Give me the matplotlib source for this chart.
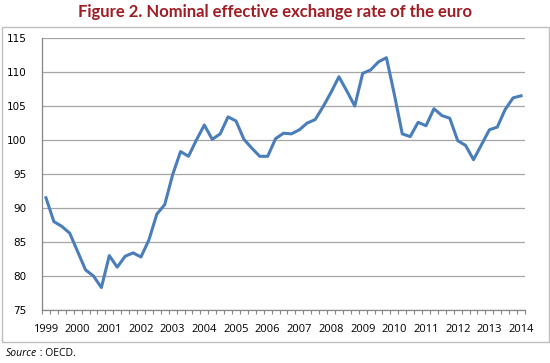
import matplotlib
matplotlib.use("Agg")
import matplotlib.pyplot as plt
from matplotlib.patches import Rectangle

years = [str(y) for y in range(1999, 2015)]
# quarterly values, 1999Q1 .. 2014Q1
values = [91.5, 88.0, 87.3, 86.3, 83.6, 80.9, 80.0, 78.3,
          83.0, 81.3, 82.9, 83.4, 82.8, 85.3, 89.1, 90.5,
          94.9, 98.3, 97.6, 100.0, 102.2, 100.1, 100.9, 103.4,
          102.8, 100.1, 98.8, 97.6, 97.6, 100.2, 101.0, 100.9,
          101.5, 102.5, 103.0, 104.9, 107.0, 109.3, 107.2, 105.0,
          109.8, 110.3, 111.5, 112.1, 106.7, 100.9, 100.5, 102.6,
          102.1, 104.6, 103.6, 103.2, 99.9, 99.2, 97.1, 99.3,
          101.5, 101.9, 104.5, 106.2, 106.5]
yticks = [75, 80, 85, 90, 95, 100, 105, 110, 115]

W, H = 550, 363
fig = plt.figure(figsize=(W / 100, H / 100), dpi=100)

# outer frame
fig.patches.append(Rectangle((1.5 / W, 1 - 342 / H), 547 / W, 315 / H,
                             transform=fig.transFigure, fill=False,
                             edgecolor="#BEBEBE", linewidth=1.0))

ax = fig.add_axes([42 / W, 1 - 310 / H, (525 - 42) / W, (310 - 38) / H])
x = list(range(len(values)))
ax.plot(x, values, color="#4A7EBB", linewidth=2.2, solid_joinstyle="round")

ax.set_xlim(-0.5, len(values) - 0.5)
ax.set_ylim(75, 115)
ax.set_yticks(yticks)
ax.set_yticklabels([str(v) for v in yticks], fontsize=7.5, family="DejaVu Sans")
ax.tick_params(axis="y", length=0, pad=11)
ax.yaxis.grid(True, color="#A6A6A6", linewidth=0.9)
ax.set_axisbelow(True)

ax.set_xticks([i - 0.5 for i in range(len(values) + 1)], minor=True)
ax.set_xticks(list(range(0, len(values), 4)))
ax.set_xticklabels(years, fontsize=8, family="Open Sans")
ax.tick_params(axis="x", which="major", length=0, pad=10)
ax.tick_params(axis="x", which="minor", length=3, color="#868686", width=0.8)

for s in ["top", "right"]:
    ax.spines[s].set_visible(False)
for s in ["left", "bottom"]:
    ax.spines[s].set_color("#868686")
    ax.spines[s].set_linewidth(0.9)

fig.text(0.5, 1 - 12 / H, "Figure 2. Nominal effective exchange rate of the euro",
         ha="center", va="center", fontsize=12, fontweight="bold",
         color="#A01C24", family="Lato")
fig.text(6 / W, 1 - 353 / H, "Source", ha="left", va="center", fontsize=7.5,
         style="italic", family="Open Sans")
fig.text(37 / W, 1 - 353 / H, " : OECD.", ha="left", va="center", fontsize=7.5,
         family="Open Sans")

fig.savefig("out.png", dpi=100)
